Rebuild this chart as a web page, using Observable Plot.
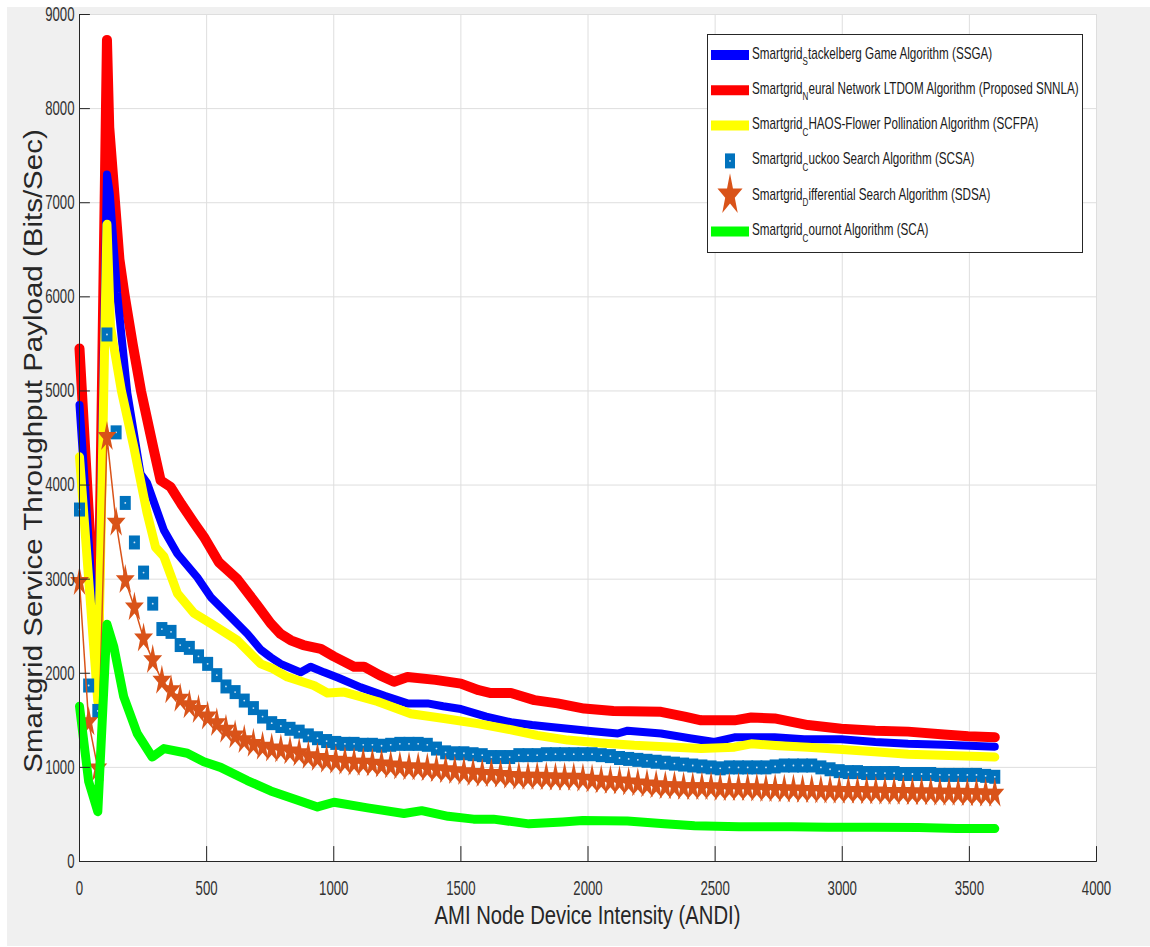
<!DOCTYPE html>
<html>
<head>
<meta charset="utf-8">
<script src="https://cdn.jsdelivr.net/npm/d3@7"></script>
<script src="https://cdn.jsdelivr.net/npm/@observablehq/plot@0.6"></script>
<style>
html,body{margin:0;padding:0;background:#fff;width:1150px;height:947px;overflow:hidden}
#bg{position:absolute;left:7px;top:7px;width:1143px;height:939px;background:#f0f0f0}
#chart{position:absolute;left:0;top:0}
</style>
</head>
<body>
<div id="bg"></div>
<div id="chart"></div>
<script>
// ---------- data ----------
const xTicks = [0,500,1000,1500,2000,2500,3000,3500,4000];
const yTicks = [0,1000,2000,3000,4000,5000,6000,7000,8000,9000];

const xLabel = "AMI Node Device Intensity (ANDI)";
const yLabel = "Smartgrid Service Throughput Payload (Bits/Sec)";

const legendPrefix = "Smartgrid";
const legendSub = ["S","N","C","C","D","C"];
const legendRest = [
  "tackelberg Game Algorithm (SSGA)",
  "eural Network LTDOM Algorithm (Proposed SNNLA)",
  "HAOS-Flower Pollination Algorithm (SCFPA)",
  "uckoo Search Algorithm (SCSA)",
  "ifferential Search Algorithm (SDSA)",
  "ournot Algorithm (SCA)"
];

// SNNLA (red)
const snnlaX = [0,72,108,117,137,157,176,209,242,290,319,358,400,450,489,548,621,700,752,790,831,880,949,1000,1080,1119,1180,1237,1290,1400,1500,1570,1618,1697,1789,1880,1985,2100,2287,2380,2445,2576,2642,2734,2865,2996,3130,3259,3400,3495,3600];
const snnlaY = [5450,2000,8730,7800,7100,6400,6040,5500,5000,4400,4050,3980,3800,3600,3450,3180,3000,2720,2530,2420,2350,2300,2260,2180,2070,2070,1980,1910,1960,1930,1890,1820,1790,1790,1715,1680,1625,1600,1590,1540,1500,1500,1530,1520,1450,1410,1390,1380,1350,1330,1320];

// SSGA (blue)
const ssgaX = [0,72,108,119,148,188,240,266,332,385,463,516,594,660,713,752,791,870,909,962,1020,1106,1200,1290,1369,1430,1500,1600,1697,1780,1854,2000,2117,2156,2287,2400,2497,2576,2642,2734,2850,2996,3130,3259,3400,3500,3600];
const ssgaY = [4850,1950,7300,7100,6040,4980,4120,4020,3520,3270,3020,2810,2600,2420,2250,2170,2100,2010,2070,2010,1950,1850,1760,1680,1680,1650,1620,1540,1480,1450,1430,1390,1360,1390,1360,1310,1270,1320,1320,1320,1300,1300,1270,1250,1240,1230,1220];

// SCFPA (yellow)
const scfpaX = [0,72,108,122,165,214,266,299,332,385,450,516,621,713,760,818,922,975,1041,1172,1303,1434,1566,1697,1800,1920,2050,2182,2300,2445,2576,2642,2750,2865,3000,3127,3260,3390,3600];
const scfpaY = [4300,1700,6770,5680,5000,4400,3700,3340,3240,2850,2640,2530,2350,2100,2050,1960,1870,1790,1800,1700,1570,1520,1465,1400,1340,1290,1260,1235,1220,1200,1215,1250,1230,1215,1190,1165,1140,1130,1110];

// SCA (green)
const scaX = [0,36,72,108,135,174,227,286,332,424,489,555,660,752,850,936,1001,1133,1276,1346,1450,1550,1628,1768,1900,1979,2155,2300,2419,2594,2800,2946,3122,3300,3450,3600];
const scaY = [1650,850,530,2520,2280,1750,1360,1110,1200,1150,1060,1000,860,750,660,580,630,570,510,540,480,450,450,400,420,436,430,400,380,370,370,365,365,360,350,350];

// marker series x positions
const markerX = [0,36,72,108,144,180,216,252,288,324,360,396,432,468,504,540,576,612,648,684,720,756,792,828,864,900,936,972,1008,1044,1080,1116,1152,1188,1224,1260,1296,1332,1368,1404,1440,1476,1512,1548,1584,1620,1656,1692,1728,1764,1800,1836,1872,1908,1944,1980,2016,2052,2088,2124,2160,2196,2232,2268,2304,2340,2376,2412,2448,2484,2520,2556,2592,2628,2664,2700,2736,2772,2808,2844,2880,2916,2952,2988,3024,3060,3096,3132,3168,3204,3240,3276,3312,3348,3384,3420,3456,3492,3528,3564,3600];

// SCSA (squares)
const scsaY = [3740,1870,1600,5600,4560,3810,3390,3070,2740,2470,
  2440,2300,2270,2180,2100,1980,1860,1800,1710,1630,
  1540,1470,1440,1410,1380,1340,1310,1280,1260,1250,
  1250,1240,1240,1230,1240,1250,1250,1250,1240,1200,
  1160,1150,1150,1140,1130,1110,1110,1110,1130,1130,
  1130,1140,1140,1140,1140,1140,1140,1130,1120,1100,
  1090,1080,1070,1060,1050,1040,1030,1020,1010,1000,
  990,1000,1000,1000,1000,1000,1010,1020,1020,1020,
  1020,1000,980,960,950,950,940,940,940,940,
  930,930,930,930,920,920,920,920,920,910,
  900];

// SDSA (stars)
const sdsaY = [2970,1480,990,4510,3600,2990,2700,2370,2140,1920,
  1820,1730,1660,1610,1540,1470,1400,1340,1290,1250,
  1220,1200,1190,1170,1150,1120,1100,1080,1070,1060,
  1050,1050,1040,1030,1020,1010,1000,1000,990,980,
  970,960,950,940,930,930,920,910,900,900,
  900,895,890,890,890,880,870,860,855,850,
  840,830,820,810,800,800,790,790,790,790,
  780,780,780,780,775,770,770,765,765,760,
  760,755,755,750,750,750,745,745,740,740,
  740,735,735,735,730,730,730,725,725,720,
  720];

// ---------- build tables ----------
const zip = (xs, ys) => xs.map((x, i) => ({x, y: ys[i]}));
const snnla = zip(snnlaX, snnlaY);
const ssga = zip(ssgaX, ssgaY);
const scfpa = zip(scfpaX, scfpaY);
const sca = zip(scaX, scaY);
const scsa = zip(markerX, scsaY);
const sdsa = zip(markerX, sdsaY);

const C = {
  red: "#ff0000", blue: "#0000ff", yellow: "#ffff00", green: "#00ff00",
  square: "#0072bd", star: "#d95319", axis: "#262626", grid: "#dedede", text: "#333333"
};

function starPath(ctx, R, sx) {
  const ri = R * 0.382;
  for (let i = 0; i < 10; i++) {
    const a = -Math.PI / 2 + i * Math.PI / 5;
    const rr = i % 2 ? ri : R;
    const px = sx * rr * Math.cos(a), py = rr * Math.sin(a);
    if (i) ctx.lineTo(px, py); else ctx.moveTo(px, py);
  }
  ctx.closePath();
}
const starSym = {draw(ctx) { starPath(ctx, 16, 0.62); }};
const squareSym = {draw(ctx) { ctx.rect(-5.5, -7, 11, 14); }};
const tickUp = {draw(ctx, l) { ctx.moveTo(0, 0); ctx.lineTo(0, -l); }};

const W = 1150, H = 947;
const svg = Plot.plot({
  width: W, height: H,
  marginLeft: 79, marginRight: 54, marginTop: 14, marginBottom: 86,
  style: {background: "transparent", overflow: "visible", color: C.text, fontFamily: "'Liberation Sans', Arial, sans-serif"},
  x: {domain: [0, 4000], label: null},
  y: {domain: [0, 9000], label: null},
  marks: [
    Plot.frame({fill: "white", stroke: "none"}),
    Plot.gridX(xTicks, {stroke: C.grid, strokeOpacity: 1, strokeWidth: 1}),
    Plot.gridY(yTicks, {stroke: C.grid, strokeOpacity: 1, strokeWidth: 1}),
    Plot.line(snnla, {x: "x", y: "y", stroke: C.red, strokeWidth: 10, strokeLinejoin: "round"}),
    Plot.line(ssga, {x: "x", y: "y", stroke: C.blue, strokeWidth: 8, strokeLinejoin: "round"}),
    Plot.line(scfpa, {x: "x", y: "y", stroke: C.yellow, strokeWidth: 9, strokeLinejoin: "round"}),
    Plot.dot(scsa, {x: "x", y: "y", symbol: squareSym, r: 4, fill: C.square, stroke: "none"}),
    Plot.dot(scsa, {x: "x", y: "y", r: 0.9, fill: "#cfe4f5", stroke: "none"}),
    Plot.line(sdsa, {x: "x", y: "y", stroke: C.star, strokeWidth: 1.5}),
    Plot.dot(sdsa, {x: "x", y: "y", symbol: starSym, r: 4, fill: C.star, stroke: "none"}),
    Plot.line(sca, {x: "x", y: "y", stroke: C.green, strokeWidth: 9, strokeLinejoin: "round"}),
    Plot.ruleY([0], {stroke: C.axis, strokeWidth: 1}),
    Plot.ruleX([0], {stroke: C.axis, strokeWidth: 1}),
    Plot.vector(xTicks, {x: d => d, y: d => 0, length: 15, rotate: 0, anchor: "start", shape: tickUp, stroke: C.axis, strokeWidth: 1}),
    Plot.vector(yTicks, {x: d => 0, y: d => d, length: 10, rotate: 90, anchor: "start", shape: tickUp, stroke: C.axis, strokeWidth: 1}),
    Plot.axisX(xTicks, {tickSize: 0, tickPadding: 19, fontSize: 20, label: null, tickFormat: d => String(d)}),
    Plot.axisY(yTicks, {tickSize: 0, tickPadding: 5, fontSize: 20, label: null, tickFormat: d => String(d)})
  ]
});
document.getElementById("chart").append(svg);

const root = d3.select(svg);
// narrow tick labels (the reference is horizontally condensed)
root.selectAll('g[aria-label$="tick label"] text').each(function() {
  const t = this.getAttribute("transform");
  if (t) this.setAttribute("transform", t + " scale(0.66,1)");
  else {
    const x = +this.getAttribute("x") || 0, y = +this.getAttribute("y") || 0;
    this.removeAttribute("x"); this.removeAttribute("y");
    this.setAttribute("transform", `translate(${x},${y}) scale(0.66,1)`);
  }
});

// axis titles
const FF = "'Liberation Sans', Arial, sans-serif";
root.append("text")
  .attr("transform", "translate(587.5,924) scale(0.81,1)")
  .attr("text-anchor", "middle")
  .attr("font-family", FF).attr("font-size", 25).attr("fill", C.axis)
  .text(xLabel);
root.append("text")
  .attr("transform", "translate(42,451) rotate(-90) scale(1,0.85)")
  .attr("text-anchor", "middle")
  .attr("font-family", FF).attr("font-size", 29.5).attr("fill", C.axis)
  .text(yLabel);

// legend
const lg = root.append("g").attr("font-family", FF).attr("text-anchor", "start");
lg.append("rect").attr("x", 707.5).attr("y", 34.5).attr("width", 375).attr("height", 218)
  .attr("fill", "white").attr("stroke", C.axis).attr("stroke-width", 1);
const kinds = [
  {type: "line", color: C.blue},
  {type: "line", color: C.red},
  {type: "line", color: C.yellow},
  {type: "square", color: C.square},
  {type: "star", color: C.star},
  {type: "line", color: C.green}
];
kinds.forEach((k, i) => {
  const base = 58.5 + i * 35.3;
  const cy = base - 3.5;
  if (k.type === "line") {
    lg.append("line").attr("x1", 711).attr("x2", 749).attr("y1", cy).attr("y2", cy)
      .attr("stroke", k.color).attr("stroke-width", 10);
  } else if (k.type === "square") {
    lg.append("rect").attr("x", 725).attr("y", cy - 7.5).attr("width", 10).attr("height", 15).attr("fill", k.color);
    lg.append("circle").attr("cx", 730).attr("cy", cy).attr("r", 0.9).attr("fill", "#cfe4f5");
  } else {
    const p = d3.path(); starPath(p, 22, 0.6);
    lg.append("path").attr("d", p.toString()).attr("transform", `translate(730,${cy - 1})`).attr("fill", k.color);
  }
  const t = lg.append("text").attr("transform", `translate(752,${base}) scale(0.73,1)`)
    .attr("text-anchor", "start")
    .attr("font-size", 16).attr("fill", "#1a1a1a");
  t.append("tspan").text(legendPrefix);
  t.append("tspan").attr("dy", 6.5).attr("font-size", 11).text(legendSub[i]);
  t.append("tspan").attr("dy", -6.5).text(legendRest[i]);
});
</script>
</body>
</html>
